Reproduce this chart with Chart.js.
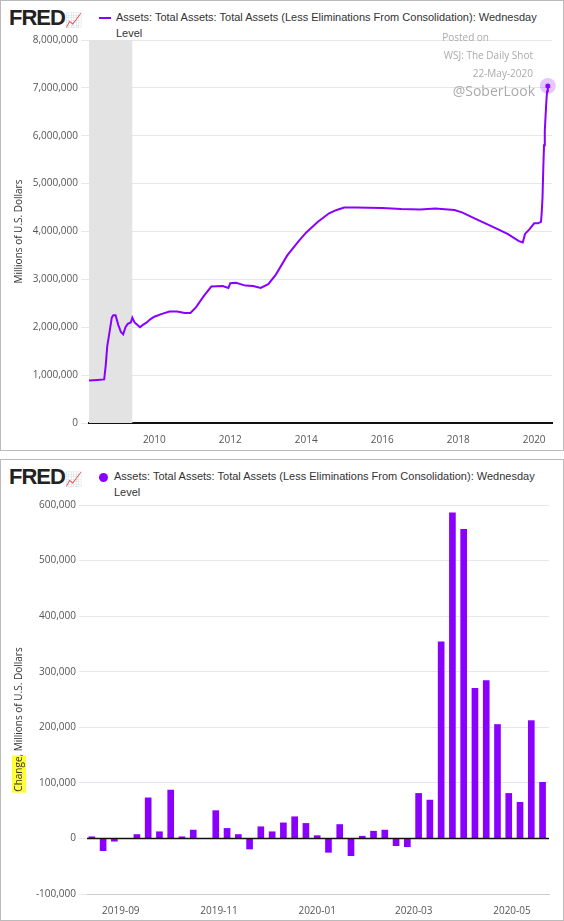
<!DOCTYPE html>
<html><head><meta charset="utf-8">
<script src="https://cdn.jsdelivr.net/npm/chart.js@4"></script>
<style>
body{margin:0;width:564px;height:921px;background:#fff;font-family:"Open Sans",Arial,sans-serif;position:relative;overflow:hidden}
.panel{position:absolute;left:0;width:562px;border:1px solid #bbb;background:#fff}
.logo{position:absolute;left:8px;top:4px;font:900 22px "Liberation Sans",Arial,sans-serif;letter-spacing:-1px;color:#222}
.leg{position:absolute;left:98px;top:8px;font:11px "Liberation Sans",Arial,sans-serif;color:#333;line-height:16px;width:460px;white-space:nowrap}
.wm{position:absolute;color:#aaa;font-size:10px;text-align:right;right:20px}
canvas{position:absolute;left:0}
</style></head><body>
<div class="panel" style="top:0;height:449px">
 <div class="logo">FRED<span style="font-size:14px;color:#9ab">📈</span></div>
 <div class="leg"><span style="display:inline-block;width:12px;height:2px;background:#8a00ff;vertical-align:middle;margin-right:5px"></span>Assets: Total Assets: Total Assets (Less Eliminations From Consolidation): Wednesday<br><span style="padding-left:17px">Level</span></div>
 <div style="position:absolute;left:0;top:30px;width:562px;height:418px"><canvas id="c1"></canvas></div>
 <div class="wm" style="top:29px;right:74px">Posted on</div>
 <div class="wm" style="top:47px;right:30px">WSJ: The Daily Shot</div>
 <div class="wm" style="top:65px;right:30px">22-May-2020</div>
 <div class="wm" style="top:80px;right:28px;font-size:14px">@SoberLook</div>
</div>
<div class="panel" style="top:459px;height:460px">
 <div class="logo">FRED<span style="font-size:14px;color:#9ab">📈</span></div>
 <div class="leg"><span style="display:inline-block;width:9px;height:9px;border-radius:50%;background:#8a00ff;vertical-align:middle;margin-right:6px"></span>Assets: Total Assets: Total Assets (Less Eliminations From Consolidation): Wednesday<br><span style="padding-left:15px">Level</span></div>
 <div style="position:absolute;left:0;top:36px;width:562px;height:424px"><canvas id="c2"></canvas></div>
</div>
<script>
const levelYears=[2008.28,2008.5,2008.68,2008.72,2008.76,2008.82,2008.88,2008.92,2008.98,2009.05,2009.12,2009.18,2009.24,2009.3,2009.38,2009.42,2009.48,2009.55,2009.62,2009.7,2009.8,2009.9,2010.0,2010.2,2010.4,2010.6,2010.8,2010.95,2011.1,2011.3,2011.5,2011.8,2011.95,2012.0,2012.15,2012.4,2012.6,2012.8,2013.0,2013.2,2013.5,2013.8,2014.0,2014.3,2014.6,2014.8,2015.0,2015.3,2016.0,2016.5,2017.0,2017.4,2017.9,2018.1,2018.5,2018.9,2019.3,2019.6,2019.7,2019.76,2019.88,2020.0,2020.1,2020.18,2020.2,2020.22,2020.24,2020.26,2020.28,2020.3,2020.32,2020.34,2020.36];
const levelValues=[890000,900000,910000,1200000,1600000,1900000,2200000,2250000,2250000,2050000,1900000,1850000,2000000,2070000,2100000,2200000,2100000,2050000,2000000,2050000,2100000,2170000,2220000,2280000,2330000,2330000,2300000,2300000,2420000,2650000,2850000,2860000,2820000,2920000,2930000,2870000,2860000,2820000,2900000,3100000,3500000,3800000,3980000,4200000,4380000,4450000,4500000,4500000,4490000,4470000,4460000,4480000,4450000,4400000,4250000,4100000,3950000,3800000,3770000,3950000,4050000,4170000,4170000,4200000,4400000,4700000,5300000,5800000,6100000,6400000,6700000,6930000,7040000];
const recession=[2008.28,2009.42];
const levelTicks=[2010,2012,2014,2016,2018,2020];
const changeDates=["2019-08-14","2019-08-21","2019-08-28","2019-09-04","2019-09-11","2019-09-18","2019-09-25","2019-10-02","2019-10-09","2019-10-16","2019-10-23","2019-10-30","2019-11-06","2019-11-13","2019-11-20","2019-11-27","2019-12-04","2019-12-11","2019-12-18","2019-12-25","2020-01-01","2020-01-08","2020-01-15","2020-01-22","2020-01-29","2020-02-05","2020-02-12","2020-02-19","2020-02-26","2020-03-04","2020-03-11","2020-03-18","2020-03-25","2020-04-01","2020-04-08","2020-04-15","2020-04-22","2020-04-29","2020-05-06","2020-05-13","2020-05-20"];
const changeValues=[3000,-22000,-5000,0,7000,73000,12000,87000,3000,15000,0,50000,18000,7000,-19000,21000,12000,28000,39000,27000,5000,-25000,25000,-31000,4000,13000,15000,-13000,-15000,81000,69000,354000,586000,556000,270000,284000,205000,81000,65000,212000,101000];
const changeTicks=["2019-09-01","2019-11-01","2020-01-01","2020-03-01","2020-05-01"];
const purple='#8a00ff';
const day=s=>Date.parse(s+"T00:00:00Z")/864e5;
const fmt=v=>v.toLocaleString('en-US');
const tickFont={family:'Open Sans',size:10};
Chart.defaults.animation=false;

const recPlugin={id:'rec',beforeDatasetsDraw(c){const x=c.scales.x,a=c.chartArea,g=c.ctx;g.save();g.fillStyle='#e3e3e3';const x0=x.getPixelForValue(recession[0]),x1=x.getPixelForValue(recession[1]);g.fillRect(x0,a.top,x1-x0,a.bottom-a.top);g.restore();}};
const endDot={id:'dot',afterDatasetsDraw(c){const m=c.getDatasetMeta(0).data;const p=m[m.length-1];const g=c.ctx;g.save();g.fillStyle='rgba(138,0,255,0.22)';g.beginPath();g.arc(p.x,p.y,8,0,7);g.fill();g.fillStyle=purple;g.beginPath();g.arc(p.x,p.y,2.5,0,7);g.fill();g.restore();}};
const zeroLine={id:'zero',afterDraw(c){const y=c.scales.y.getPixelForValue(0),a=c.chartArea,g=c.ctx;g.save();g.strokeStyle='#111';g.lineWidth=1.5;g.beginPath();g.moveTo(a.left,y);g.lineTo(a.right,y);g.stroke();g.restore();}};
const vTitle=(id,parts,dy)=>({id,afterDraw(c){const g=c.ctx,a=c.chartArea;g.save();g.translate(18,(a.top+a.bottom)/2+dy);g.rotate(-Math.PI/2);g.font='10px Open Sans';g.textBaseline='middle';let w=0;parts.forEach(p=>w+=g.measureText(p[0]).width);let x=-w/2;parts.forEach(p=>{const pw=g.measureText(p[0]).width;if(p[1]){g.fillStyle='#ffff33';g.fillRect(x-1,-7,pw+2,14);}g.fillStyle='#333';g.fillText(p[0],x,0);x+=pw;});g.restore();}});

new Chart(document.getElementById('c1'),{type:'line',
 data:{datasets:[{data:levelYears.map((x,i)=>({x,y:levelValues[i]})),borderColor:purple,borderWidth:2,pointRadius:0,tension:0}]},
 options:{responsive:true,maintainAspectRatio:false,layout:{padding:{top:4,right:11,bottom:0}},
  plugins:{legend:{display:false},tooltip:{enabled:false}},
  scales:{x:{type:'linear',min:2008.28,max:2020.47,afterBuildTicks:s=>{s.ticks=levelTicks.map(v=>({value:v}))},
     ticks:{font:tickFont,color:'#555',callback:v=>String(v),maxRotation:0},grid:{display:false,drawTicks:true},border:{color:'#111',width:2}},
   y:{min:0,max:8000000,afterFit:s=>{s.width=88},ticks:{stepSize:1000000,font:tickFont,color:'#555',callback:fmt},grid:{color:'#e6e6ec'},border:{display:false}}}},
 plugins:[recPlugin,endDot,vTitle('t1',[['Millions of U.S. Dollars',false]],0)]});

new Chart(document.getElementById('c2'),{type:'bar',
 data:{datasets:[{data:changeDates.map((d,i)=>({x:day(d),y:changeValues[i]})),backgroundColor:purple,barThickness:6}]},
 options:{responsive:true,maintainAspectRatio:false,layout:{padding:{top:4,right:14,bottom:0}},
  plugins:{legend:{display:false},tooltip:{enabled:false}},
  scales:{x:{type:'linear',min:day("2019-08-11"),max:day("2020-05-24"),offset:false,afterBuildTicks:s=>{s.ticks=changeTicks.map(d=>({value:day(d)}))},
     ticks:{font:tickFont,color:'#555',maxRotation:0,callback:v=>{const d=new Date(v*864e5);return d.getUTCFullYear()+'-'+String(d.getUTCMonth()+1).padStart(2,'0');}},grid:{display:false},border:{color:'#ccc'}},
   y:{min:-100000,max:600000,afterFit:s=>{s.width=86},ticks:{stepSize:100000,font:tickFont,color:'#555',callback:fmt},grid:{color:'#e6e6ec'},border:{display:false}}}},
 plugins:[zeroLine,vTitle('t2',[['Change',true],[', Millions of U.S. Dollars',false]],20)]});
</script>
</body></html>
